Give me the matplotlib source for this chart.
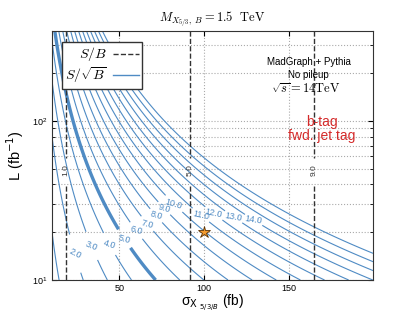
import numpy as np
import matplotlib
matplotlib.use("Agg")
import matplotlib.pyplot as plt
from matplotlib.lines import Line2D

plt.rcParams['mathtext.fontset'] = 'cm'
plt.rcParams['font.family'] = ['Liberation Sans', 'DejaVu Sans']

# analysis numbers (after cuts)
eff_sig = 0.009        # signal efficiency
sigma_bkg = 0.165      # background cross section after cuts, fb
sb_levels = [1.0, 5.0, 9.0]
signif_levels = [1.0, 2.0, 3.0, 4.0, 5.0, 6.0, 7.0, 8.0, 9.0, 10.0,
                 11.0, 12.0, 13.0, 14.0, 15.0, 16.0, 17.0]
bench_sigma = [100.0]
bench_lumi = [20.0]

sig = np.linspace(10, 200, 400)
lumi = np.logspace(1, np.log10(370), 400)
SIG, LUM = np.meshgrid(sig, lumi)
S = SIG * eff_sig * LUM
B = sigma_bkg * LUM
SB = S / B
SIGNIF = S / np.sqrt(B)

blue = '#4f8bc4'
fig = plt.figure(figsize=(4.15, 3.12), dpi=100)
ax = fig.add_axes([0.125, 0.1026, 0.774, 0.798])

lws = [2.4 if lev == 5.0 else 0.8 for lev in signif_levels]
cs = ax.contour(SIG, LUM, SIGNIF, levels=signif_levels, colors=blue, linewidths=lws)
# label spots along each labelled line
lab_pos = [(23.5, 13.8), (33.5, 16.1), (44.1, 17.1), (52.9, 17.8), (60, 21.2),
           (66.5, 22.8), (71.8, 26.4), (76.5, 28.7), (82.4, 31.9), (98.2, 26.4),
           (105.9, 27.6), (117.6, 26.4), (129.4, 24.9)]
ax.clabel(cs, manual=lab_pos, fmt='%.1f',
          fontsize=6.5, inline=True, inline_spacing=0)

cs2 = ax.contour(SIG, LUM, SB, levels=sb_levels, colors='#333333',
                 linestyles='--', linewidths=1.0)
sb_txt = ax.clabel(cs2, manual=[(18.3, 49), (91.5, 49), (165, 49)], fmt='%.1f',
                   fontsize=6, inline=True, inline_spacing=1)
for t in sb_txt:
    t.set_rotation(90)

ax.plot(bench_sigma, bench_lumi, marker='*', ms=9, color='#f39a2e',
        mec='#5a3000', mew=0.6, ls='none', zorder=5)

ax.set_yscale('log')
ax.set_xlim(10, 200)
ax.set_ylim(10, 370)
ax.set_xticks([50, 100, 150])
ax.grid(True, which='both', ls=':', color='#aaaaaa', lw=0.8)
ax.tick_params(which='both', direction='in', top=True, right=True, labelsize=6.5)
ax.tick_params(axis='x', pad=3)
for sp in ax.spines.values():
    sp.set_color('#333333')

ax.set_title(r'$M_{X_{5/3},\ B} = 1.5\ \ \mathrm{TeV}$', fontsize=9, pad=6)
ax.set_xlabel(r'σ$_{\mathrm{X}\ _{5/3/B}}$ (fb)', fontsize=10,
              math_fontfamily='dejavusans', labelpad=-0.5)
ax.set_ylabel(r'L (fb$^{-1}$)', fontsize=10.5, math_fontfamily='dejavusans')

ax.text(0.80, 0.85, 'MadGraph + Pythia\nNo pileup', transform=ax.transAxes,
        ha='center', va='center', fontsize=7, linespacing=1.4)
ax.text(0.79, 0.767, r'$\sqrt{s} = 14\mathrm{TeV}$', transform=ax.transAxes,
        ha='center', va='center', fontsize=9)
ax.text(0.84, 0.608, 'b-tag\nfwd. jet tag', transform=ax.transAxes,
        ha='center', va='center', fontsize=10, color='#d42a2a', linespacing=1.0)

handles = [Line2D([], [], color='#333333', ls='--', lw=1.0),
           Line2D([], [], color=blue, lw=1.0)]
leg = ax.legend(handles, [r'$S/B$', r'$S/\sqrt{B}$'], loc='upper left',
                bbox_to_anchor=(0.031, 0.956), borderaxespad=0, fontsize=10,
                markerfirst=False, fancybox=False, framealpha=1, handlelength=1.9,
                borderpad=0.25, labelspacing=0.15, handletextpad=0.4)
leg.get_frame().set_edgecolor('#333333')
leg.get_frame().set_linewidth(1.0)

fig.savefig('out.png', dpi=100)
